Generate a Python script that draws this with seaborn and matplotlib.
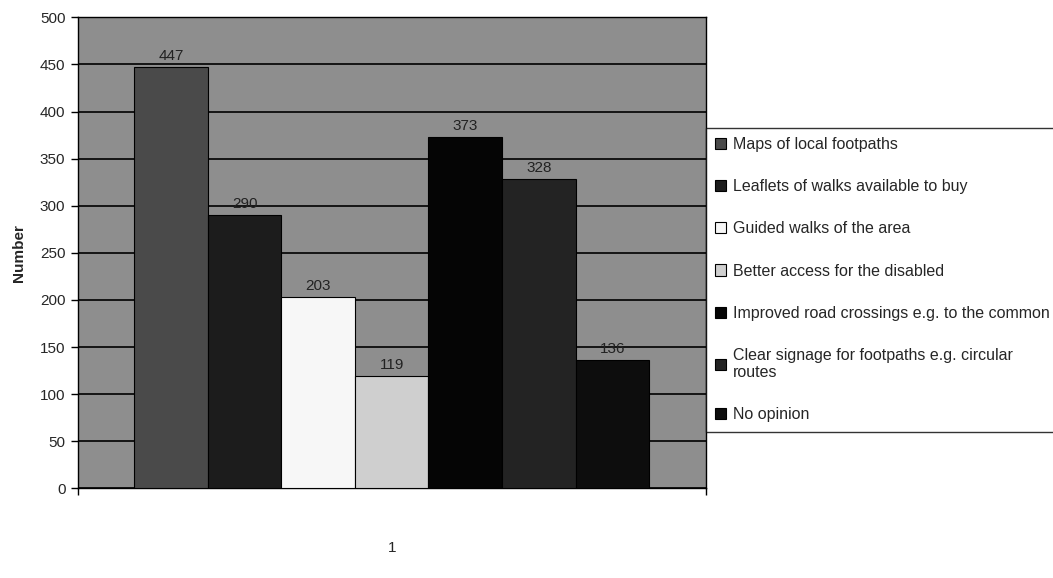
import numpy as np
import pandas as pd
import matplotlib
matplotlib.use("Agg")
import matplotlib.pyplot as plt
import seaborn as sns

series = [
    "Maps of local footpaths",
    "Leaflets of walks available to buy",
    "Guided walks of the area",
    "Better access for the disabled",
    "Improved road crossings e.g. to the common",
    "Clear signage for footpaths e.g. circular\nroutes",
    "No opinion",
]
values = [447, 290, 203, 119, 373, 328, 136]
category = ["1"] * len(series)
bar_colors = ["#4a4a4a", "#1c1c1c", "#f7f7f7", "#cfcfcf", "#050505", "#232323", "#0d0d0d"]

df = pd.DataFrame({"group": category, "series": series, "value": values})

sns.set_style("white")
plt.rcParams["font.family"] = ["Liberation Sans", "DejaVu Sans"]

fig = plt.figure(figsize=(10.53, 5.78), dpi=100)
ax = fig.add_axes([0.074, 0.155, 0.596, 0.815])
ax.set_facecolor("#8e8e8e")

sns.barplot(data=df, x="group", y="value", hue="series", palette=bar_colors,
            width=0.82, edgecolor="#000000", linewidth=0.8, saturation=1,
            ax=ax, zorder=3)

ax.set_ylim(0, 500)
ax.set_xlim(-0.5, 0.5)
ax.set_yticks(np.arange(0, 501, 50))
ax.yaxis.grid(True, color="black", linewidth=1.2, zorder=0)
ax.set_axisbelow(True)
ax.tick_params(axis="y", left=True, direction="out", length=5, width=1, color="black",
               labelsize=11, pad=4)
ax.tick_params(axis="x", which="major", length=0, labelsize=11, pad=38)
# category boundary ticks at both ends of the x axis
ax.set_xticks([-0.5, 0.5], minor=True)
ax.tick_params(axis="x", which="minor", bottom=True, direction="out", length=5, width=1,
               color="black")
ax.set_xlabel("")
ax.set_ylabel("Number", fontsize=11, fontweight="bold", labelpad=10)
for s in ax.spines.values():
    s.set_color("black")
    s.set_linewidth(1)

for cont in ax.containers:
    ax.bar_label(cont, fmt="%d", padding=3, fontsize=11, color="#222222")

handles, labels = ax.get_legend_handles_labels()
ax.legend(handles, labels, loc="upper left", bbox_to_anchor=(1.0, 0.766),
          frameon=True, fancybox=False, edgecolor="black", fontsize=11.5,
          handlelength=0.7, handleheight=0.7, handletextpad=0.4,
          labelspacing=1.7, borderpad=0.6, borderaxespad=0.0)

fig.savefig("out.png", dpi=100, facecolor="white")
